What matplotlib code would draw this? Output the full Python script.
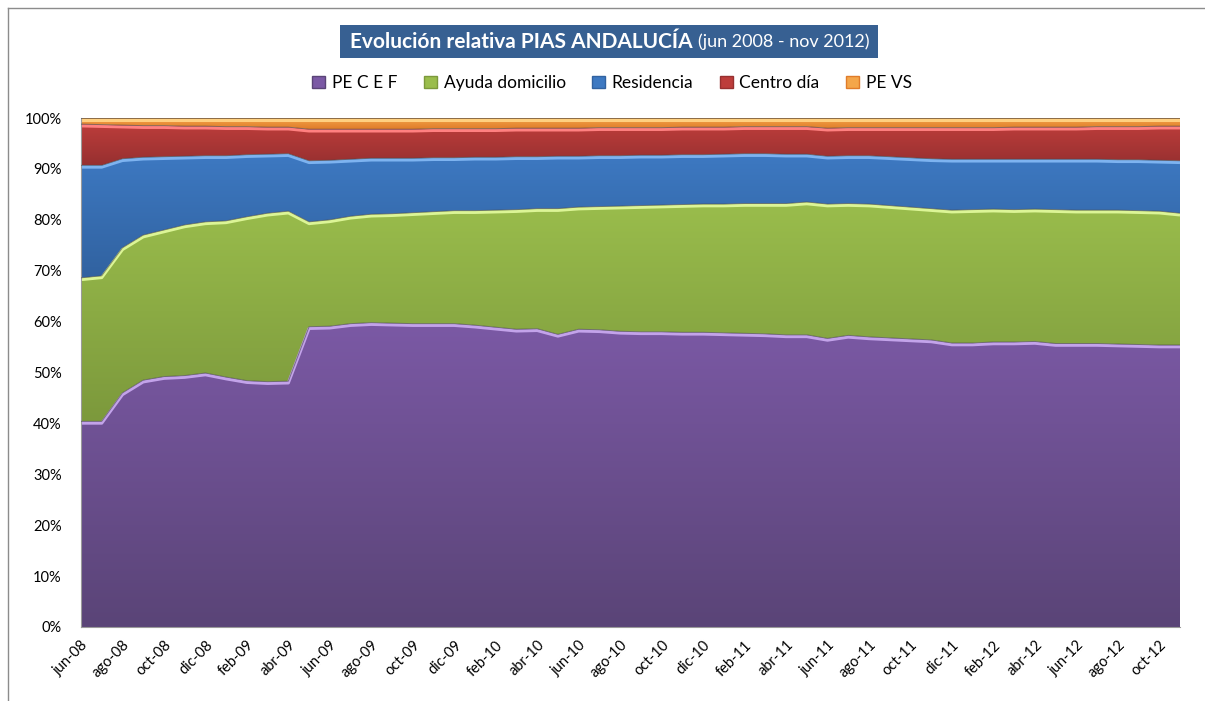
import numpy as np
import matplotlib
matplotlib.use("Agg")
import matplotlib.pyplot as plt
from matplotlib.colors import LinearSegmentedColormap
from matplotlib.patches import PathPatch, Rectangle
from matplotlib.lines import Line2D

# meses jun-08 .. nov-12
mes_nombres = ['ene', 'feb', 'mar', 'abr', 'may', 'jun', 'jul', 'ago', 'sep', 'oct', 'nov', 'dic']
meses = []
for k in range(54):
    m = (5 + k) % 12
    a = 8 + (5 + k) // 12
    meses.append("%s-%02d" % (mes_nombres[m], a))

series_names = ["PE C E F", "Ayuda domicilio", "Residencia", "Centro día", "PE VS"]

# porcentajes mensuales
pe_cef = [40.4, 40.4, 46.0, 48.5, 49.2, 49.4, 49.9, 49.1, 48.4, 48.2, 48.3,
          59.0, 59.1, 59.6, 59.8, 59.7, 59.6, 59.6, 59.6, 59.3, 58.9, 58.5,
          58.6, 57.5, 58.5, 58.4, 58.1, 58.0, 58.0, 57.9, 57.9, 57.8, 57.7,
          57.6, 57.4, 57.4, 56.7, 57.3, 57.0, 56.8, 56.6, 56.4, 55.8, 55.8,
          56.0, 56.0, 56.1, 55.7, 55.7, 55.7, 55.6, 55.5, 55.4, 55.4]
ayuda = [28.2, 28.6, 28.5, 28.5, 28.8, 29.6, 29.7, 30.7, 32.2, 33.1, 33.4,
         20.6, 20.9, 21.1, 21.3, 21.5, 21.8, 22.0, 22.2, 22.5, 23.0, 23.5,
         23.6, 24.7, 24.0, 24.2, 24.6, 24.8, 24.9, 25.1, 25.2, 25.3, 25.5,
         25.6, 25.8, 26.1, 26.4, 25.9, 26.1, 26.0, 25.9, 25.8, 26.1, 26.2,
         26.1, 26.0, 26.0, 26.3, 26.2, 26.2, 26.3, 26.3, 26.3, 25.9]
residencia = [22.1, 21.7, 17.5, 15.3, 14.4, 13.5, 13.0, 12.8, 12.2, 11.6, 11.3,
              12.0, 11.7, 11.2, 11.0, 10.9, 10.7, 10.6, 10.4, 10.5, 10.4, 10.4,
              10.2, 10.3, 10.0, 10.0, 9.9, 9.9, 9.8, 9.8, 9.7, 9.8, 9.8,
              9.8, 9.7, 9.4, 9.4, 9.4, 9.5, 9.6, 9.7, 9.8, 10.0, 9.9,
              9.8, 9.9, 9.8, 9.9, 10.0, 10.0, 9.9, 10.0, 10.0, 10.3]
centro_dia = [8.1, 8.0, 6.6, 6.2, 6.1, 5.9, 5.8, 5.7, 5.5, 5.3, 5.2,
              6.2, 6.1, 5.9, 5.7, 5.7, 5.7, 5.7, 5.7, 5.6, 5.6, 5.6,
              5.6, 5.5, 5.5, 5.5, 5.5, 5.4, 5.4, 5.4, 5.4, 5.3, 5.3,
              5.3, 5.4, 5.4, 5.5, 5.5, 5.5, 5.7, 5.9, 6.1, 6.2, 6.2,
              6.2, 6.3, 6.3, 6.3, 6.3, 6.4, 6.5, 6.5, 6.7, 6.8]
pe_vs = [1.2, 1.3, 1.4, 1.5, 1.5, 1.6, 1.6, 1.7, 1.7, 1.8, 1.8,
         2.2, 2.2, 2.2, 2.2, 2.2, 2.2, 2.1, 2.1, 2.1, 2.1, 2.0,
         2.0, 2.0, 2.0, 1.9, 1.9, 1.9, 1.9, 1.8, 1.8, 1.8, 1.7,
         1.7, 1.7, 1.7, 2.0, 1.9, 1.9, 1.9, 1.9, 1.9, 1.9, 1.9,
         1.9, 1.8, 1.8, 1.8, 1.8, 1.7, 1.7, 1.7, 1.6, 1.6]

# colores: (arriba, abajo, brillo del borde)
estilos = [("#7b59a5", "#5a4477", "#c3a3ea"),
           ("#9abd4c", "#7c993c", "#dcf596"),
           ("#3d79c2", "#3162a0", "#7db3f0"),
           ("#bd3d3b", "#973030", "#ff8080"),
           ("#f4a64a", "#e07c2a", "#ffd080")]

W, H = 1205, 701
fig = plt.figure(figsize=(W / 100, H / 100), dpi=100)
fig.patch.set_facecolor("white")
ax = fig.add_axes([81 / W, 1 - 627 / H, (1180 - 81) / W, (627 - 118) / H])

x = np.arange(len(meses))
data = np.array([pe_cef, ayuda, residencia, centro_dia, pe_vs])
data = data / data.sum(axis=0) * 100

polys = ax.stackplot(x, *data, colors=[s[0] for s in estilos], linewidth=0)
grad = np.linspace(0, 1, 256).reshape(-1, 1)
for poly, (c_top, c_bot, c_hi) in zip(polys, estilos):
    path = poly.get_paths()[0]
    bb = path.get_extents()
    cmap = LinearSegmentedColormap.from_list("g", [c_bot, c_top])
    im = ax.imshow(grad, extent=[bb.x0, bb.x1, bb.y0, bb.y1], origin="lower",
                   aspect="auto", cmap=cmap, interpolation="bilinear", zorder=1)
    im.set_clip_path(PathPatch(path, transform=ax.transData))
    poly.set_facecolor("none")

cum = np.cumsum(data, axis=0)
for i, (c_top, c_bot, c_hi) in enumerate(estilos):
    ax.plot(x, cum[i] - 0.35, color=c_hi, lw=2.2, zorder=2, solid_capstyle="butt")
    ax.plot(x, cum[i], color="#4a4a4a", lw=0.7, alpha=0.6, zorder=3)

ax.set_xlim(0, len(meses) - 1)
ax.set_ylim(0, 100)
ax.set_yticks(np.arange(0, 101, 10))
ax.set_yticklabels(["%d%%" % v for v in range(0, 101, 10)], fontsize=10.5, family="Lato")
ax.set_xticks(x[::2])
ax.set_xticklabels(meses[::2], rotation=45, ha="right", rotation_mode="anchor",
                   fontsize=10.5, family="Lato")
ax.tick_params(axis="y", length=0, pad=14)
ax.tick_params(axis="x", length=0, pad=8)
for side in ["top", "right"]:
    ax.spines[side].set_visible(False)
ax.spines["left"].set_color("#9a9a9a")
ax.spines["bottom"].set_color("#9a9a9a")

# titulo en caja
fig.add_artist(Rectangle((340 / W, 1 - 58 / H), (878 - 340) / W, 33 / H,
                         transform=fig.transFigure, facecolor="#376092", edgecolor="none"))
t1 = fig.text(350 / W, 1 - 42 / H, "Evolución relativa PIAS ANDALUCÍA", color="white",
              fontsize=15, fontweight="bold", family="Lato", va="center", ha="left")
fig.canvas.draw()
ext = t1.get_window_extent(fig.canvas.get_renderer())
fig.text((ext.x1 + 5) / W, 1 - 42 / H, "(jun 2008 - nov 2012)", color="white",
         fontsize=13, family="Lato", va="center", ha="left")

# leyenda
handles = [Rectangle((0, 0), 1, 1, facecolor=s[0], edgecolor=s[1]) for s in estilos]
fig.legend(handles, series_names, loc="center", bbox_to_anchor=(612 / W, 1 - 83 / H),
           ncol=5, frameon=False, fontsize=12.5, prop={"family": "Lato", "size": 12.5},
           handlelength=0.75, handleheight=0.75, handletextpad=0.4, columnspacing=1.5)

# marco exterior
fig.add_artist(Line2D([8 / W, 8 / W], [0, 1 - 8 / H], transform=fig.transFigure,
                      color="#8c8c8c", lw=1))
fig.add_artist(Line2D([8 / W, 1], [1 - 8 / H, 1 - 8 / H], transform=fig.transFigure,
                      color="#8c8c8c", lw=1))

fig.savefig("out.png", dpi=100)
